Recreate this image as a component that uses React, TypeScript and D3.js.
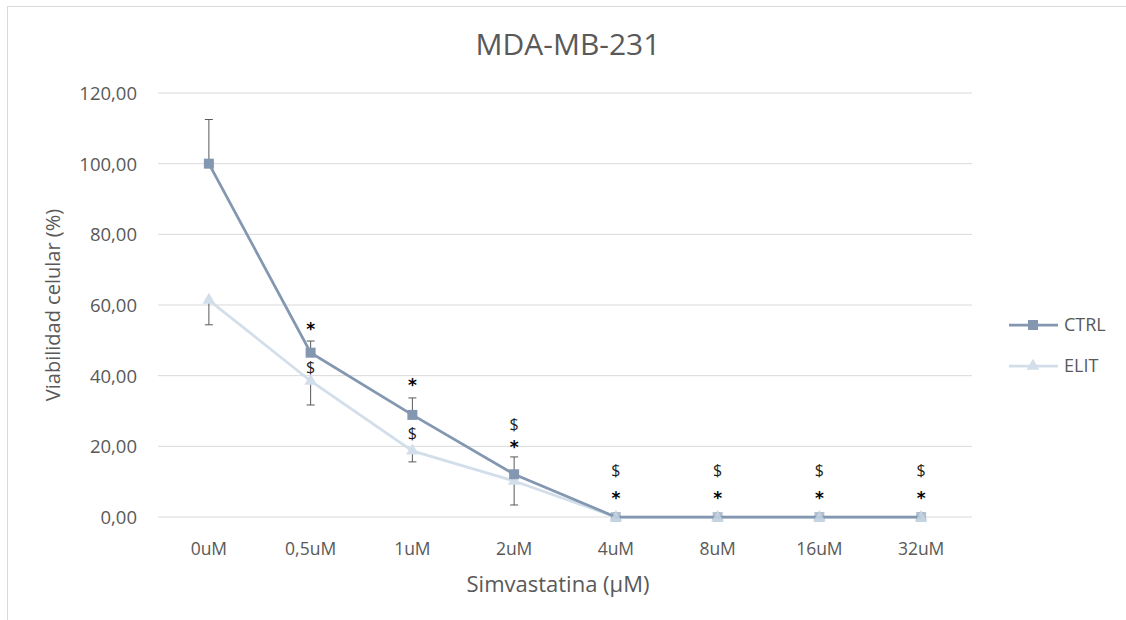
import React from "react";
import * as d3 from "d3";

const categories = ["0uM", "0,5uM", "1uM", "2uM", "4uM", "8uM", "16uM", "32uM"];
const ctrlValues = [100, 46.5, 28.9, 12.1, 0, 0, 0, 0];
const ctrlErrUp = [12.5, 3.3, 4.8, 4.9, 0, 0, 0, 0];
const elitValues = [61.4, 38.5, 18.7, 10.2, 0, 0, 0, 0];
const elitErrDown = [7.0, 6.8, 3.1, 6.8, 0, 0, 0, 0];
const yTicks = [0, 20, 40, 60, 80, 100, 120];
// annotations: [category index, text, value-position]
const annotations: [number, string, number][] = [
  [1, "*", 53],
  [1, "$", 41.5],
  [2, "*", 37],
  [2, "$", 23],
  [3, "$", 25.5],
  [3, "*", 19.5],
  [4, "$", 12.5],
  [4, "*", 5],
  [5, "$", 12.5],
  [5, "*", 5],
  [6, "$", 12.5],
  [6, "*", 5],
  [7, "$", 12.5],
  [7, "*", 5],
];

const FONT = "'Open Sans', 'Liberation Sans', sans-serif";
const GRAY = "#595959";
const CTRL_COLOR = "#8497B0";
const ELIT_COLOR = "#D2DFEB";

export default function App() {
  const x = d3.scaleBand<string>().domain(categories).range([158, 972]);
  const y = d3.scaleLinear().domain([0, 120]).range([517, 93]);
  const cx = (i: number) => (x(categories[i]) as number) + x.bandwidth() / 2;
  const line = d3
    .line<number>()
    .x((_, i) => cx(i))
    .y((d) => y(d));
  const tri = d3.symbol().type(d3.symbolTriangle).size(70)();

  return (
    <svg
      width={1126}
      height={620}
      style={{ position: "absolute", left: 0, top: 0, background: "#fff" }}
    >
      <rect x={7.5} y={6.5} width={1140} height={640} fill="#fff" stroke="#D9D9D9" />
      <text x={568} y={55} textAnchor="middle" fontFamily={FONT} fontSize={30} fill={GRAY}>
        MDA-MB-231
      </text>
      {yTicks.map((t) => (
        <g key={t}>
          <line x1={158} x2={972} y1={y(t)} y2={y(t)} stroke="#D9D9D9" strokeWidth={1} />
          <text
            x={137}
            y={y(t) + 7}
            textAnchor="end"
            fontFamily={FONT}
            fontSize={18.5}
            fill={GRAY}
          >
            {d3.format(".2f")(t).replace(".", ",")}
          </text>
        </g>
      ))}
      {categories.map((c, i) => (
        <text
          key={c}
          x={cx(i)}
          y={555}
          textAnchor="middle"
          fontFamily={FONT}
          fontSize={17.5}
          fill={GRAY}
        >
          {c}
        </text>
      ))}
      <text x={558} y={592} textAnchor="middle" fontFamily={FONT} fontSize={22} fill={GRAY}>
        Simvastatina (µM)
      </text>
      <text
        transform={`translate(60,305) rotate(-90)`}
        textAnchor="middle"
        fontFamily={FONT}
        fontSize={20}
        fill={GRAY}
      >
        Viabilidad celular (%)
      </text>

      {/* ELIT */}
      <path d={line(elitValues) || ""} fill="none" stroke={ELIT_COLOR} strokeWidth={2.75} />
      {elitValues.map((v, i) =>
        elitErrDown[i] > 0 ? (
          <g key={"ee" + i} stroke={GRAY} strokeWidth={1}>
            <line x1={cx(i)} x2={cx(i)} y1={y(v)} y2={y(v - elitErrDown[i])} />
            <line x1={cx(i) - 4} x2={cx(i) + 4} y1={y(v - elitErrDown[i])} y2={y(v - elitErrDown[i])} />
          </g>
        ) : null
      )}
      {elitValues.map((v, i) => (
        <path key={"em" + i} d={tri || ""} transform={`translate(${cx(i)},${y(v)})`} fill={ELIT_COLOR} />
      ))}

      {/* CTRL */}
      <path d={line(ctrlValues) || ""} fill="none" stroke={CTRL_COLOR} strokeWidth={2.75} />
      {ctrlValues.map((v, i) =>
        ctrlErrUp[i] > 0 ? (
          <g key={"ce" + i} stroke={GRAY} strokeWidth={1}>
            <line x1={cx(i)} x2={cx(i)} y1={y(v)} y2={y(v + ctrlErrUp[i])} />
            <line x1={cx(i) - 4} x2={cx(i) + 4} y1={y(v + ctrlErrUp[i])} y2={y(v + ctrlErrUp[i])} />
          </g>
        ) : null
      )}
      {ctrlValues.map((v, i) => (
        <rect
          key={"cm" + i}
          x={cx(i) - 5}
          y={y(v) - 5}
          width={10}
          height={10}
          fill={CTRL_COLOR}
          fillOpacity={v === 0 ? 0.6 : 1}
        />
      ))}
      {elitValues.map((v, i) =>
        v === 0 ? (
          <path key={"em2" + i} d={tri || ""} transform={`translate(${cx(i)},${y(v) + 1})`} fill={ELIT_COLOR} fillOpacity={0.7} />
        ) : null
      )}

      {annotations.map(([i, t, v], k) => (
        <text
          key={"a" + k}
          x={cx(i)}
          y={y(v) + (t === "*" ? 5 : 3)}
          textAnchor="middle"
          fontFamily={t === "*" ? "'DejaVu Sans', sans-serif" : FONT}
          fontWeight={t === "*" ? "bold" : "normal"}
          fontSize={t === "*" ? 17 : 16}
          fill={t === "*" ? "#000" : "#222"}
        >
          {t}
        </text>
      ))}

      {/* Legend */}
      <line x1={1009} x2={1058} y1={325} y2={325} stroke={CTRL_COLOR} strokeWidth={2.75} />
      <rect x={1028} y={320} width={10} height={10} fill={CTRL_COLOR} />
      <text x={1064} y={331} fontFamily={FONT} fontSize={18} fill={GRAY}>
        CTRL
      </text>
      <line x1={1009} x2={1058} y1={366} y2={366} stroke={ELIT_COLOR} strokeWidth={2.75} />
      <path d={tri || ""} transform={`translate(1033,366)`} fill={ELIT_COLOR} />
      <text x={1064} y={372} fontFamily={FONT} fontSize={18} fill={GRAY}>
        ELIT
      </text>
    </svg>
  );
}
